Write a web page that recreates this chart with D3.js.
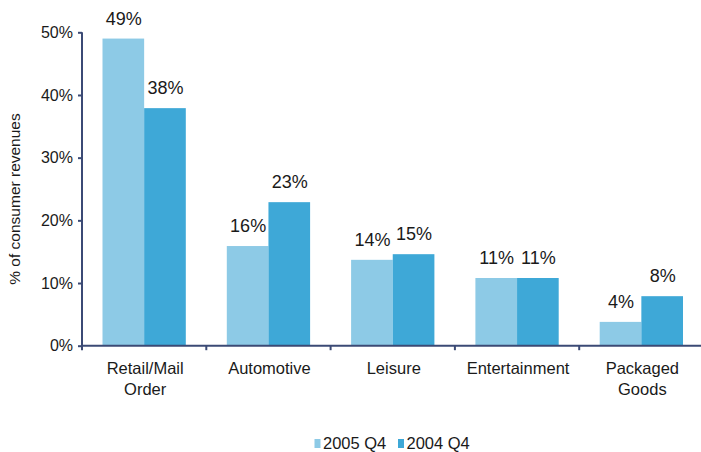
<!DOCTYPE html>
<html>
<head>
<meta charset="utf-8">
<script src="https://cdn.jsdelivr.net/npm/d3@7/dist/d3.min.js"></script>
<style>
  html, body { margin: 0; padding: 0; background: #fff; }
  svg text { font-family: "Liberation Sans", Arial, sans-serif; fill: #1a1a1a; }
</style>
</head>
<body>
<svg id="chart" width="701" height="452"></svg>
<script>
const categories = [["Retail/Mail", "Order"], ["Automotive"], ["Leisure"], ["Entertainment"], ["Packaged", "Goods"]];
const seriesNames = ["2005 Q4", "2004 Q4"];
const values2005 = [49.0, 15.9, 13.7, 10.8, 3.8];
const values2004 = [37.9, 22.9, 14.6, 10.8, 7.9];
const labels2005 = ["49%", "16%", "14%", "11%", "4%"];
const labels2004 = ["38%", "23%", "15%", "11%", "8%"];
const yTicks = [0, 10, 20, 30, 40, 50];
const colors = ["#8dcae6", "#3ea8d7"];

const svg = d3.select("#chart");
const axisColor = "#3b4a75";
const x0 = 82, yBase = 345.7, yTop = 32.3;
const catKeys = categories.map((c, i) => i);

const x = d3.scaleBand().domain(catKeys).range([x0, x0 + 5 * 124.3]).padding(0);
const bw = x.bandwidth();
const x1 = d3.scaleBand().domain(seriesNames).range([20.5, bw - 20.5]).padding(0);
const y = d3.scaleLinear().domain([0, 50]).range([yBase, yTop]);

const series = [values2005, values2004];
const seriesLabels = [labels2005, labels2004];

// bars
series.forEach((vals, si) => {
  svg.append("g").selectAll("rect").data(vals).enter().append("rect")
    .attr("x", (d, i) => x(i) + x1(seriesNames[si]))
    .attr("width", x1.bandwidth())
    .attr("y", d => y(d))
    .attr("height", d => y(0) - y(d))
    .attr("fill", colors[si]);
  svg.append("g").selectAll("text").data(vals).enter().append("text")
    .attr("x", (d, i) => x(i) + x1(seriesNames[si]) + x1.bandwidth() / 2 + 0.5)
    .attr("y", d => y(d) - 14)
    .attr("text-anchor", "middle")
    .style("font-size", "18px")
    .text((d, i) => seriesLabels[si][i]);
});

// y axis
const yAxis = d3.axisLeft(y).tickValues(yTicks).tickFormat(d => d + "%").tickSize(4).tickPadding(5);
const gy = svg.append("g").attr("transform", `translate(${x0},0)`).call(yAxis);
gy.select(".domain").attr("stroke", axisColor).attr("stroke-width", 2).attr("d", `M0,${yTop}V${yBase}`);
gy.selectAll(".tick line").attr("stroke", axisColor).attr("stroke-width", 2);
gy.selectAll(".tick text").style("font-size", "16px").attr("fill", "#1a1a1a").attr("font-family", null);

// x axis
svg.append("line").attr("x1", x0 - 1).attr("x2", 701).attr("y1", yBase).attr("y2", yBase)
  .attr("stroke", axisColor).attr("stroke-width", 2);
const boundaries = catKeys.map(i => x(i));
svg.append("g").selectAll("line").data(boundaries).enter().append("line")
  .attr("x1", d => d).attr("x2", d => d).attr("y1", yBase).attr("y2", yBase + 4.5)
  .attr("stroke", axisColor).attr("stroke-width", 2);

// category labels
const cl = svg.append("g").selectAll("text").data(categories).enter().append("text")
  .attr("text-anchor", "middle")
  .style("font-size", "16.5px")
  .attr("x", (d, i) => x(i) + bw / 2 + 1)
  .attr("y", yBase + 28.5);
cl.each(function(d, i) {
  const t = d3.select(this);
  d.forEach((line, li) => {
    t.append("tspan").attr("x", x(i) + bw / 2 + 1).attr("dy", li === 0 ? 0 : 21).text(line);
  });
});

// y title
svg.append("text")
  .attr("transform", "translate(20,199) rotate(-90)")
  .attr("text-anchor", "middle")
  .style("font-size", "15.5px")
  .text("% of consumer revenues");

// legend
const legendX = [314.5, 398];
seriesNames.forEach((s, i) => {
  svg.append("rect").attr("x", legendX[i]).attr("y", 439).attr("width", 6).attr("height", 9).attr("fill", colors[i]);
  svg.append("text").attr("x", legendX[i] + 8.5).attr("y", 449).style("font-size", "16.5px").text(s);
});
</script>
</body>
</html>
